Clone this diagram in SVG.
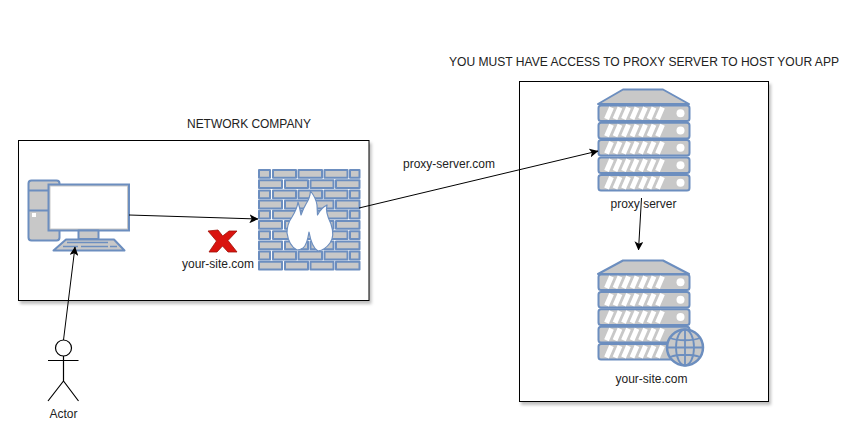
<svg xmlns="http://www.w3.org/2000/svg" xmlns:xlink="http://www.w3.org/1999/xlink" width="859" height="436" viewBox="0 0 859 436">
<style>
text{font-family:"Liberation Sans",Arial,sans-serif;font-size:12px;fill:#222;text-anchor:middle}
.box{fill:#fff;stroke:#000;stroke-width:1;filter:url(#sh)}
.s{fill:#c8c8c8;stroke:#6c8ebf;stroke-width:2;stroke-linejoin:round}
.w{fill:#fff}
.e{fill:none;stroke:#000;stroke-width:1;marker-end:url(#arr)}
.l{fill:none;stroke:#000;stroke-width:1.2}
.stripe{stroke:#fff;stroke-width:5;fill:none}
</style>
<defs>
<filter id="sh" x="-5%" y="-5%" width="110%" height="110%"><feDropShadow dx="2" dy="3" stdDeviation="1.5" flood-color="#000" flood-opacity=".25"/></filter>
<marker id="arr" viewBox="0 0 10 10" refX="9.5" refY="5" markerWidth="9" markerHeight="9" markerUnits="userSpaceOnUse" orient="auto"><path d="M0 0L10 5L0 10L2.5 5Z" fill="#000"/></marker>
<g id="unit"><rect x="0" y="0" width="91" height="15.6" rx="2.500" class="s"/>
<path class="stripe" d="M8 13.500L13 2M16.500 13.500L21.500 2M25 13.500L30 2M33.500 13.500L38.500 2M42 13.500L47 2M50.500 13.500L55.500 2M59 13.500L64 2"/>
<circle cx="82" cy="7.800" r="4" class="w"/></g>
<g id="ra"><rect x="0" y="0" width="11" height="7.800" class="s"/><rect x="14" y="0" width="23" height="7.800" class="s"/><rect x="39.500" y="0" width="23.500" height="7.800" class="s"/><rect x="65.500" y="0" width="23" height="7.800" class="s"/><rect x="91" y="0" width="9.500" height="7.800" class="s"/></g>
<g id="rb"><rect x="0" y="0" width="23" height="7.800" class="s"/><rect x="26" y="0" width="23" height="7.800" class="s"/><rect x="51.500" y="0" width="23" height="7.800" class="s"/><rect x="77" y="0" width="23.500" height="7.800" class="s"/></g>
</defs>
<rect width="859" height="436" fill="#fff"/>
<g id="network-box"><rect class="box" x="18.500" y="140.500" width="350.500" height="160"/><text x="249" y="128" textLength="124">NETWORK COMPANY</text></g>
<g id="host-box"><rect class="box" x="519.500" y="81.500" width="249" height="320"/><text x="644" y="66" textLength="390" lengthAdjust="spacingAndGlyphs">YOU MUST HAVE ACCESS TO PROXY SERVER TO HOST YOUR APP</text></g>
<g id="computer">
<rect class="s" x="28.500" y="180.500" width="31" height="60" rx="3"/>
<path d="M28.500 190.500H48M28.500 210.500H48" stroke="#6c8ebf" stroke-width="2" fill="none"/>
<rect class="w" x="32" y="213" width="4" height="4"/>
<rect x="48.500" y="184.500" width="80.500" height="46" fill="#c8c8c8" stroke="#6c8ebf" stroke-width="2"/>
<rect x="50.500" y="186.500" width="76.500" height="42" fill="#fff"/>
<rect class="s" x="78.500" y="230.500" width="20" height="8.500"/>
<path class="s" d="M66 239.500H114L124.500 250.500H53.500Z"/>
<path d="M67 242.500H108M63 246.500H78M81 246.500H108M110 246.500H117" stroke="#6c8ebf" stroke-width="1.500" fill="none"/>
</g>
<g id="firewall">
<use xlink:href="#ra" x="259" y="170"/>
<use xlink:href="#rb" x="259" y="180.200"/>
<use xlink:href="#ra" x="259" y="190.400"/>
<use xlink:href="#rb" x="259" y="200.600"/>
<use xlink:href="#ra" x="259" y="210.800"/>
<use xlink:href="#rb" x="259" y="221"/>
<use xlink:href="#ra" x="259" y="231.200"/>
<use xlink:href="#rb" x="259" y="241.400"/>
<use xlink:href="#ra" x="259" y="251.600"/>
<use xlink:href="#rb" x="259" y="261.800"/>
<path d="M310.500 191Q316 198 317 205L317.500 215Q321 208 327 205Q325 212 331 224Q335 236 330 243Q325 250 318 251Q312 248 309 232Q307 245 303 248Q300 250 297 250Q289 246 287 233Q287 224 292 217Q297 209 298 202Q300 208 301 215Q303 209 306 204Q310 198 310.500 191Z" fill="#fff" stroke="#6c8ebf" stroke-width="1.200" stroke-linejoin="round"/>
</g>
<g id="blocked"><path d="M208 231L218 230L222.700 236L229 231L237 231L228 240.500L237 252L228 252L222.500 246L217 252L209 252L216.500 241Z" fill="#d9140f" stroke="#a01008" stroke-width=".8" stroke-linejoin="round"/><text x="218" y="268">your-site.com</text></g>
<g id="proxy-server">
<path class="s" d="M623 89.500H663L689 104H598Z"/>
<use xlink:href="#unit" x="598.500" y="105.500"/>
<use xlink:href="#unit" x="598.500" y="122.800"/>
<use xlink:href="#unit" x="598.500" y="140"/>
<use xlink:href="#unit" x="598.500" y="157.500"/>
<use xlink:href="#unit" x="598.500" y="175"/>
<text x="643.500" y="208">proxy server</text>
</g>
<g id="web-server">
<path class="s" d="M623 260.500H663L689 274H598Z"/>
<use xlink:href="#unit" x="598.500" y="274.500"/>
<use xlink:href="#unit" x="598.500" y="292"/>
<use xlink:href="#unit" x="598.500" y="309.300"/>
<use xlink:href="#unit" x="598.500" y="326.800"/>
<use xlink:href="#unit" x="598.500" y="344"/>
<circle cx="685" cy="347.500" r="18" fill="#c8c8c8" stroke="#6c8ebf" stroke-width="2.500"/>
<g fill="none" stroke="#6c8ebf" stroke-width="1.800"><ellipse cx="685" cy="347.500" rx="9" ry="18"/><path d="M685 329.500V365.500M667 347.500H703M670 338C678 341 692 341 700 338M670 357C678 354 692 354 700 357"/></g>
<text x="651.500" y="383">your-site.com</text>
</g>
<g id="actor">
<circle cx="63.500" cy="348" r="8" fill="#fff" stroke="#000" stroke-width="1.200"/>
<path class="l" d="M63.500 356V381M48 360.500H78.500M63.500 381L48 401M63.500 381L78.500 401"/>
<text x="63.500" y="418">Actor</text>
</g>
<g id="connectors">
<path class="e" d="M129 215L258 219"/>
<path class="e" d="M359 208L598 151"/>
<path class="e" d="M641.500 198L638.500 250"/>
<path class="e" d="M63.500 340L75 247"/>
</g>
<text x="449" y="168">proxy-server.com</text>
</svg>
